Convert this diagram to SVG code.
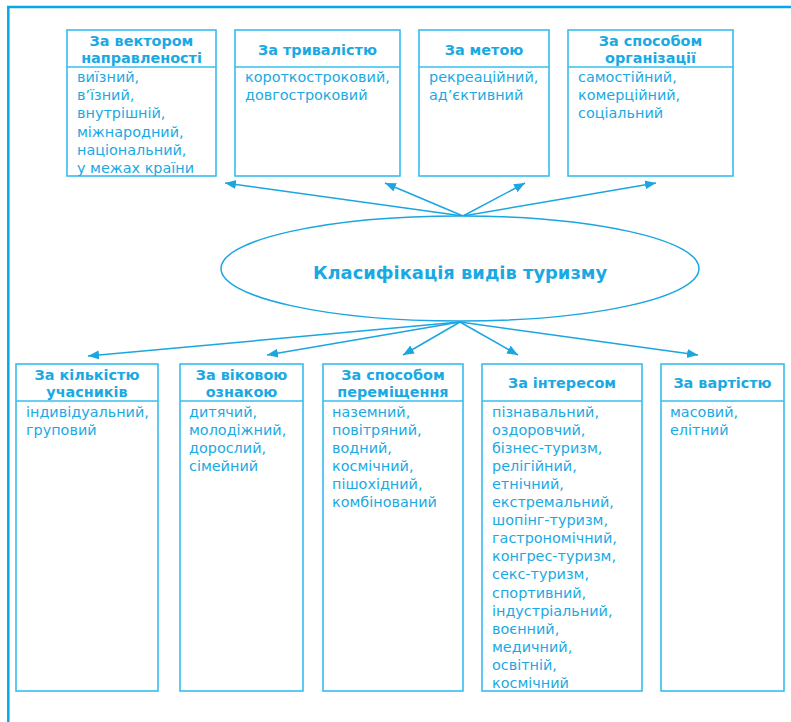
<svg xmlns="http://www.w3.org/2000/svg" width="791" height="722" viewBox="0 0 791 722">
<style>
.box{fill:#fff;stroke:#38bdee;stroke-width:1.6}
.div{stroke:#38bdee;stroke-width:1.4}
.h{font-family:"DejaVu Sans",Verdana,sans-serif;font-weight:bold;font-size:14.4px;fill:#1aa9e3;text-anchor:middle}
.b{font-family:"DejaVu Sans",Verdana,sans-serif;font-size:14.4px;fill:#1aa9e3}
.t{font-family:"DejaVu Sans",Verdana,sans-serif;font-weight:bold;font-size:17.9px;fill:#1aa9e3;text-anchor:middle}
.c{stroke:#1aa6e0;stroke-width:1.5;fill:none;marker-end:url(#ah)}
.frame{stroke:#08a8e8;stroke-width:2.5;fill:none}
</style>
<defs>
<marker id="ah" markerUnits="userSpaceOnUse" markerWidth="12" markerHeight="10" refX="11" refY="4.5" orient="auto">
<path d="M0,0 L11,4.5 L0,9 z" fill="#1aa6e0"/>
</marker>
</defs>
<rect width="791" height="722" fill="#fff"/>
<path class="frame" d="M8.3,722 V7 H791"/>

<g id="connectors">
<line class="c" x1="463" y1="216" x2="225" y2="183"/>
<line class="c" x1="463" y1="216" x2="385" y2="183"/>
<line class="c" x1="463" y1="216" x2="525" y2="183"/>
<line class="c" x1="463" y1="216" x2="656" y2="183"/>
<line class="c" x1="460" y1="322" x2="88" y2="356"/>
<line class="c" x1="460" y1="322" x2="267" y2="355"/>
<line class="c" x1="460" y1="322" x2="403" y2="355"/>
<line class="c" x1="460" y1="322" x2="518" y2="355"/>
<line class="c" x1="460" y1="322" x2="698" y2="355"/>
</g>

<g id="center">
<ellipse cx="460" cy="268.5" rx="239" ry="52.5" fill="#fff" stroke="#1aa6e0" stroke-width="1.5"/>
<text class="t" x="460" y="279">Класифікація видів туризму</text>
</g>

<g id="vector">
<rect class="box" x="67" y="30" width="149" height="146"/>
<line class="div" x1="67" y1="67" x2="216" y2="67"/>
<text class="h" x="141.5" y="46">За вектором</text>
<text class="h" x="141.5" y="63">направленості</text>
<text class="b" x="77" y="82"><tspan x="77">виїзний,</tspan><tspan x="77" dy="18.2">в’їзний,</tspan><tspan x="77" dy="18.2">внутрішній,</tspan><tspan x="77" dy="18.2">міжнародний,</tspan><tspan x="77" dy="18.2">національний,</tspan><tspan x="77" dy="18.2">у межах країни</tspan></text>
</g>

<g id="duration">
<rect class="box" x="235" y="30" width="165" height="146"/>
<line class="div" x1="235" y1="67" x2="400" y2="67"/>
<text class="h" x="317.5" y="55">За тривалістю</text>
<text class="b" x="245" y="82"><tspan x="245">короткостроковий,</tspan><tspan x="245" dy="18.2">довгостроковий</tspan></text>
</g>

<g id="purpose">
<rect class="box" x="419" y="30" width="130" height="146"/>
<line class="div" x1="419" y1="67" x2="549" y2="67"/>
<text class="h" x="484" y="55">За метою</text>
<text class="b" x="429" y="82"><tspan x="429">рекреаційний,</tspan><tspan x="429" dy="18.2">ад’єктивний</tspan></text>
</g>

<g id="organization">
<rect class="box" x="568" y="30" width="165" height="146"/>
<line class="div" x1="568" y1="67" x2="733" y2="67"/>
<text class="h" x="650.5" y="46">За способом</text>
<text class="h" x="650.5" y="63">організації</text>
<text class="b" x="578" y="82"><tspan x="578">самостійний,</tspan><tspan x="578" dy="18.2">комерційний,</tspan><tspan x="578" dy="18.2">соціальний</tspan></text>
</g>

<g id="participants">
<rect class="box" x="16" y="364" width="142" height="327"/>
<line class="div" x1="16" y1="401" x2="158" y2="401"/>
<text class="h" x="87" y="380">За кількістю</text>
<text class="h" x="87" y="397">учасників</text>
<text class="b" x="26" y="416.5"><tspan x="26">індивідуальний,</tspan><tspan x="26" dy="18.1">груповий</tspan></text>
</g>

<g id="age">
<rect class="box" x="180" y="364" width="123" height="327"/>
<line class="div" x1="180" y1="401" x2="303" y2="401"/>
<text class="h" x="241.5" y="380">За віковою</text>
<text class="h" x="241.5" y="397">ознакою</text>
<text class="b" x="189" y="416.5"><tspan x="189">дитячий,</tspan><tspan x="189" dy="18.1">молодіжний,</tspan><tspan x="189" dy="18.1">дорослий,</tspan><tspan x="189" dy="18.1">сімейний</tspan></text>
</g>

<g id="movement">
<rect class="box" x="323" y="364" width="140" height="327"/>
<line class="div" x1="323" y1="401" x2="463" y2="401"/>
<text class="h" x="393" y="380">За способом</text>
<text class="h" x="393" y="397">переміщення</text>
<text class="b" x="332" y="416.5"><tspan x="332">наземний,</tspan><tspan x="332" dy="18.1">повітряний,</tspan><tspan x="332" dy="18.1">водний,</tspan><tspan x="332" dy="18.1">космічний,</tspan><tspan x="332" dy="18.1">пішохідний,</tspan><tspan x="332" dy="18.1">комбінований</tspan></text>
</g>

<g id="interest">
<rect class="box" x="482" y="364" width="160" height="327"/>
<line class="div" x1="482" y1="401" x2="642" y2="401"/>
<text class="h" x="562" y="388">За інтересом</text>
<text class="b" x="492" y="416.5"><tspan x="492">пізнавальний,</tspan><tspan x="492" dy="18.1">оздоровчий,</tspan><tspan x="492" dy="18.1">бізнес-туризм,</tspan><tspan x="492" dy="18.1">релігійний,</tspan><tspan x="492" dy="18.1">етнічний,</tspan><tspan x="492" dy="18.1">екстремальний,</tspan><tspan x="492" dy="18.1">шопінг-туризм,</tspan><tspan x="492" dy="18.1">гастрономічний,</tspan><tspan x="492" dy="18.1">конгрес-туризм,</tspan><tspan x="492" dy="18.1">секс-туризм,</tspan><tspan x="492" dy="18.1">спортивний,</tspan><tspan x="492" dy="18.1">індустріальний,</tspan><tspan x="492" dy="18.1">воєнний,</tspan><tspan x="492" dy="18.1">медичний,</tspan><tspan x="492" dy="18.1">освітній,</tspan><tspan x="492" dy="18.1">космічний</tspan></text>
</g>

<g id="cost">
<rect class="box" x="661" y="364" width="123" height="327"/>
<line class="div" x1="661" y1="401" x2="784" y2="401"/>
<text class="h" x="722.5" y="388">За вартістю</text>
<text class="b" x="670" y="416.5"><tspan x="670">масовий,</tspan><tspan x="670" dy="18.1">елітний</tspan></text>
</g>
</svg>
